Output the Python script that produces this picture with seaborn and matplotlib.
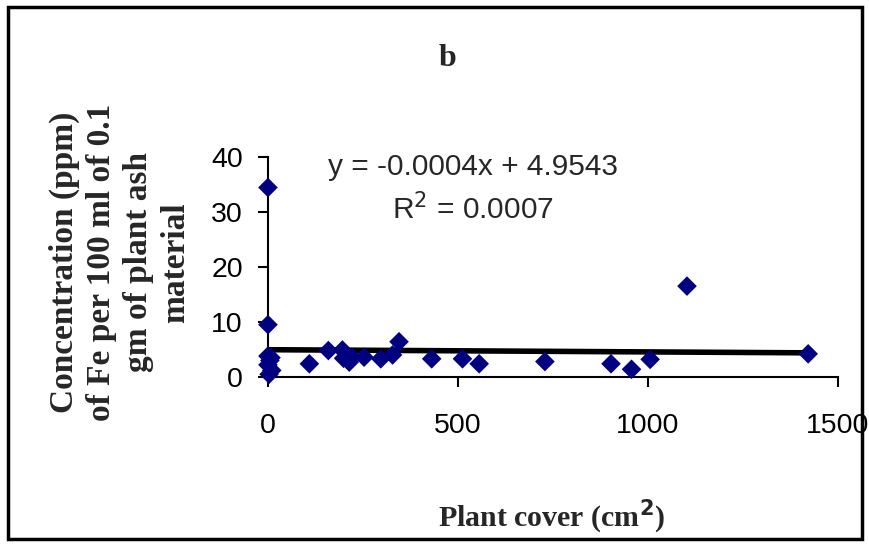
import numpy as np
import pandas as pd
import seaborn as sns
import matplotlib.pyplot as plt
from matplotlib.patches import Rectangle

# Plant cover (cm2) vs Fe concentration
plant_cover = [0, 0, 0, 5, 0, 10, 3, 8, 109, 159, 196, 199, 214, 222, 253, 297,
               328, 345, 431, 512, 556, 729, 903, 957, 1006, 1103, 1422]
fe_conc = [34.4, 9.5, 3.8, 3.0, 2.2, 1.2, 0.5, 3.5, 2.4, 4.8, 4.9, 3.4, 2.7, 3.5,
           3.6, 3.3, 4.0, 6.4, 3.3, 3.3, 2.4, 2.8, 2.4, 1.4, 3.2, 16.5, 4.2]

# linear trend reported on the chart
trend_slope = -0.0004
trend_intercept = 4.9543
r_squared = 0.0007

x_ticks = [0, 500, 1000, 1500]
y_ticks = [0, 10, 20, 30, 40]

df = pd.DataFrame({'cover': plant_cover, 'fe': fe_conc})
trend_x = np.array([min(plant_cover), max(plant_cover)])
trend = pd.DataFrame({'cover': trend_x, 'fe': trend_intercept + trend_slope * trend_x})

sns.set_style('ticks')
plt.rcParams['font.family'] = ['Liberation Sans', 'DejaVu Sans']

fig = plt.figure(figsize=(8.7, 5.44), dpi=100)
ax = fig.add_axes([0.308, 0.307, 0.655, 0.405])

sns.lineplot(data=trend, x='cover', y='fe', color='black', linewidth=4, ax=ax, zorder=2)
sns.scatterplot(data=df, x='cover', y='fe', marker='D', s=100, color='#000080',
                edgecolor='none', ax=ax, zorder=3, clip_on=False)

ax.set_xlim(0, 1500)
ax.set_ylim(0, 40)
ax.set_xticks(x_ticks)
ax.set_yticks(y_ticks)
ax.tick_params(axis='both', labelsize=20.5, width=1.5, length=7, color='black',
               labelcolor='black')
ax.tick_params(axis='y', pad=11)
ax.tick_params(axis='x', pad=19)
for s in ['top', 'right']:
    ax.spines[s].set_visible(False)
for s in ['left', 'bottom']:
    ax.spines[s].set_linewidth(1.5)
    ax.spines[s].set_color('black')

ax.set_xlabel('')
ax.set_ylabel('')

serif = ['Liberation Serif', 'DejaVu Serif']
fig.text(0.514, 0.892, 'b', ha='center', va='center', fontsize=23,
         fontweight='bold', family=serif)
fig.text(0.634, 0.05, 'Plant cover (cm$^{\\mathbf{2}}$)', ha='center', va='center',
         fontsize=21.5, fontweight='bold', family=serif)
fig.text(0.138, 0.518, 'Concentration (ppm)\nof Fe per 100 ml of 0.1\ngm of plant ash\nmaterial',
         ha='center', va='center', rotation=90, fontsize=24, fontweight='bold',
         family=serif, linespacing=1.25)

ax.text(0.36, 0.918, f'y = {trend_slope}x + {trend_intercept}', transform=ax.transAxes,
        ha='center', va='baseline', fontsize=21.5)
ax.text(0.36, 0.714, f'R$^2$ = {r_squared:.4f}', transform=ax.transAxes,
        ha='center', va='baseline', fontsize=21.5)

fig.patches.append(Rectangle((0.009, 0.01), 0.982, 0.977, transform=fig.transFigure,
                             fill=False, edgecolor='black', linewidth=2.5))

fig.savefig('out.png', dpi=100)
